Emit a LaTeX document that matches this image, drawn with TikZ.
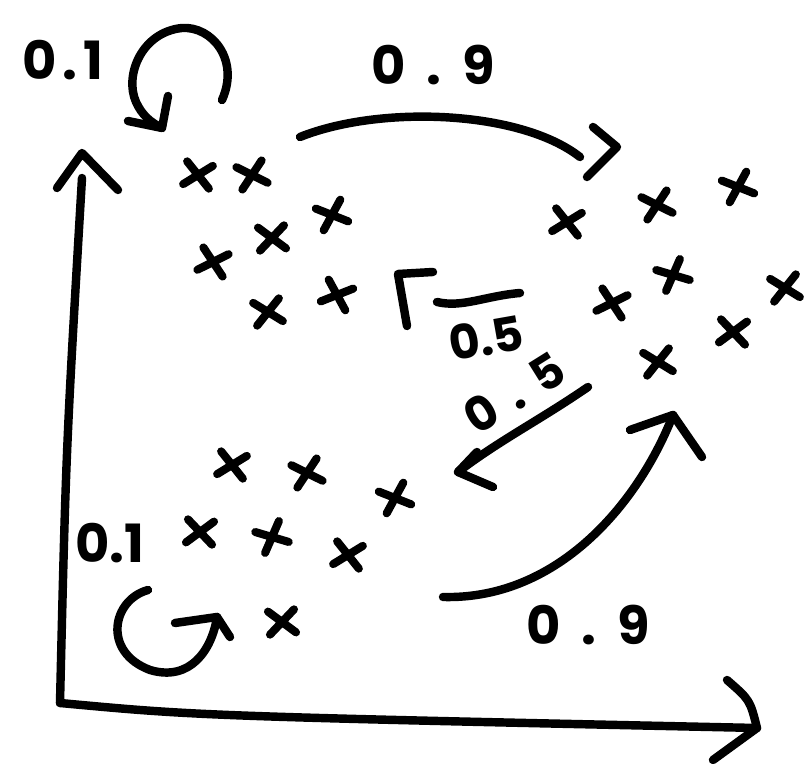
\documentclass[tikz,border=0pt]{standalone}
\usepackage{fontspec}
\newfontfamily\hand{Poppins}
\usetikzlibrary{shapes.misc}
\tikzset{
  ink/.style={line width=2.4pt, line cap=round, line join=round, black},
  xm/.style={cross out, draw, line width=2.3pt, line cap=round, minimum width=0.18cm, minimum height=0.15cm, inner sep=0pt},
  lbl/.style={font=\hand\bfseries\fontsize{15}{17}\selectfont, inner sep=0pt},
  small/.style={font=\hand\bfseries\fontsize{13.5}{15}\selectfont},
  spaced/.style={font=\hand\bfseries\fontsize{13.5}{15}\selectfont\addfontfeature{LetterSpace=35}},
  wide/.style={font=\hand\bfseries\fontsize{15}{17}\selectfont\addfontfeature{LetterSpace=40}},
  mid/.style={font=\hand\bfseries\fontsize{15}{17}\selectfont\addfontfeature{LetterSpace=12}},
}
\begin{document}
\begin{tikzpicture}[x=0.01cm, y=-0.01cm]
\useasboundingbox (0,0) rectangle (811,764);
% axes
\coordinate (O) at (60,703);
\coordinate (Ytop) at (82,178);
\coordinate (Xend) at (757,728);
\draw[ink] (O) .. controls (66,450) .. (Ytop);
\draw[ink] (57,188) -- (82,153) -- (118,190);
\draw[ink] (O) .. controls (200,716) .. (Xend);
\draw[ink] (727,680) .. controls (750,700) .. (Xend) -- (713,760);
% top-left cluster
\node[xm, rotate=-10] (a1) at (198,175) {};
\node[xm, rotate=15] (a2) at (252,175) {};
\node[xm, rotate=20] (a3) at (332,215) {};
\node[xm, rotate=5] (a4) at (272,238) {};
\node[xm, rotate=-15] (a5) at (213,262) {};
\node[xm, rotate=10] (a6) at (268,312) {};
\node[xm, rotate=-20] (a7) at (337,295) {};
% right cluster
\node[xm, rotate=-10] (b1) at (567,222) {};
\node[xm, rotate=15] (b2) at (657,205) {};
\node[xm, rotate=20] (b3) at (738,187) {};
\node[xm, rotate=25] (b4) at (673,275) {};
\node[xm, rotate=-15] (b5) at (612,303) {};
\node[xm, rotate=10] (b6) at (785,288) {};
\node[xm, rotate=-5] (b7) at (733,332) {};
\node[xm, rotate=10] (b8) at (658,362) {};
% bottom cluster
\node[xm, rotate=-10] (c1) at (232,465) {};
\node[xm, rotate=15] (c2) at (307,473) {};
\node[xm, rotate=20] (c3) at (395,498) {};
\node[xm, rotate=-5] (c4) at (200,532) {};
\node[xm, rotate=25] (c5) at (272,537) {};
\node[xm, rotate=-10] (c6) at (348,555) {};
\node[xm, rotate=5] (c7) at (282,622) {};
% top self loop
\coordinate (L1s) at (222,100);
\coordinate (L1e) at (162,128);
\draw[ink] (L1s) .. controls (240,60) and (212,26) .. (182,28)
  .. controls (142,32) and (124,75) .. (136,102) .. controls (142,115) and (150,122) .. (L1e);
\draw[ink] (128,121) -- (L1e) -- (168,96);
\node[lbl, mid] (t1) at (63,60) {0.1};
% top 0.9 arrow
\coordinate (A1s) at (300,137);
\coordinate (A1e) at (580,157);
\draw[ink] (A1s) .. controls (380,105) and (520,110) .. (A1e);
\draw[ink] (593,127) -- (617,147) -- (587,177);
\node[lbl, wide] (t2) at (433,65) {0.9};
% upper 0.5 arrow
\coordinate (A2s) at (520,293);
\coordinate (A2e) at (437,302);
\draw[ink] (A2s) .. controls (485,296) and (462,308) .. (A2e);
\draw[ink] (433,272) -- (398,274) -- (407,326);
\node[lbl, small, rotate=10] (t3) at (486,338) {0.5};
% lower 0.5 arrow
\coordinate (A3s) at (588,387);
\coordinate (A3e) at (458,472);
\draw[ink] (A3s) .. controls (540,420) and (500,440) .. (A3e);
\draw[ink] (477,452) -- (A3e) -- (493,487);
\node[lbl, spaced, rotate=32] (t4) at (514,393) {0.5};
% lower 0.9 arrow
\coordinate (A4s) at (443,597);
\coordinate (A4e) at (673,415);
\draw[ink] (A4s) .. controls (560,600) and (640,500) .. (A4e);
\draw[ink] (630,430) -- (A4e) -- (702,457);
\node[lbl, wide] (t5) at (588,625) {0.9};
% bottom self loop
\coordinate (L2s) at (148,590);
\coordinate (L2e) at (217,617);
\draw[ink] (L2s) .. controls (112,600) and (102,652) .. (150,670)
  .. controls (190,682) and (212,650) .. (L2e);
\draw[ink] (175,623) -- (L2e) -- (230,637);
\node[lbl] (t6) at (110,543) {0.1};
\end{tikzpicture}
\end{document}
